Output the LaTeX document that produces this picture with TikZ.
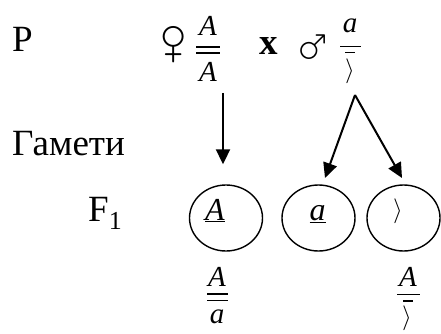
\documentclass[tikz,border=0pt]{standalone}
\usepackage{fontspec}
\setmainfont{Liberation Serif}
\usepackage{wasysym}
\usetikzlibrary{arrows.meta,shapes.geometric}

\begin{document}
\begin{tikzpicture}[x=1pt, y=-1pt,
  lbl/.style={font=\fontsize{37}{44}\selectfont, anchor=base west, inner sep=0pt},
  sex/.style={font=\fontsize{24.88}{30}\selectfont, inner sep=0pt},
  gen/.style={font=\fontsize{29}{34}\selectfont\itshape, anchor=base, inner sep=0pt},
  ychr/.style={font=\fontsize{35}{40}\selectfont, inner sep=0pt},
  gamete/.style={draw, ellipse, line width=1.4pt, minimum width=73pt,
    minimum height=66pt, inner sep=0pt},
  allele/.style={font=\fontsize{32}{36}\selectfont\itshape, anchor=base, inner sep=0pt},
  chrom/.style={line width=1.5pt},
  arrow/.style={-{Triangle[length=15pt,width=14pt]}, line width=2pt}
]
\useasboundingbox (0,0) rectangle (441,334);

% row labels
\node[lbl] (parents) at (12,52) {P};
\node[lbl] (gametes) at (12,155) {Гамети};
\node[lbl] (filial) at (88,221) {F\textsubscript{1}};

% parents
\node[sex] (female) at (174,44) {\scalebox{1.95}{\female}};
\node[gen] (fnum) at (208,36) {A};
\draw[chrom] (196,47) -- (220,47);
\draw[chrom] (196,53) -- (220,53);
\node[gen] (fden) at (208,82) {A};
\node[lbl, font=\fontsize{37}{44}\selectfont\bfseries] (cross) at (259,55) {x};
\node[sex] (male) at (314,45) {\scalebox{1.6}{\male}};
\node[gen] (mnum) at (350,33) {a};
\draw[chrom] (340,46.5) -- (361,46.5);
\draw[chrom] (345,52.5) -- (355,52.5);
\node[ychr] (mden) at (350,71) {$\rangle$};

% gametes
\node[gamete] (g1) at (226,218) {};
\node[gamete] (g2) at (318.5,218) {};
\node[gamete] (g3) at (403.5,218) {};
\node[allele] (g1txt) at (215,220) {\underline{A}};
\node[allele] (g2txt) at (317.5,220) {\underline{a}};
\node[ychr, font=\fontsize{42}{46}\selectfont] (g3txt) at (398,211) {$\rangle$};

\coordinate (ftail) at (223,93);
\coordinate (mfork) at (355,95);
\coordinate (mhead2) at (325,178);
\coordinate (mhead3) at (402,178);
\draw[arrow, shorten >=20pt] (ftail) -- (ftail |- g1.north);
\draw[arrow] (mfork) -- (mhead2);
\draw[arrow] (mfork) -- (mhead3);

% offspring
\node[gen] (o1num) at (217,286) {A};
\draw[chrom] (207,294) -- (228,294);
\draw[chrom] (207,300.5) -- (228,300.5);
\node[gen] (o1den) at (217,323) {a};
\node[gen] (o2num) at (408,286) {A};
\draw[chrom] (397,294.5) -- (420,294.5);
\draw[chrom] (403,301) -- (413,301);
\node[ychr] (o2den) at (407,318) {$\rangle$};
\end{tikzpicture}
\end{document}
